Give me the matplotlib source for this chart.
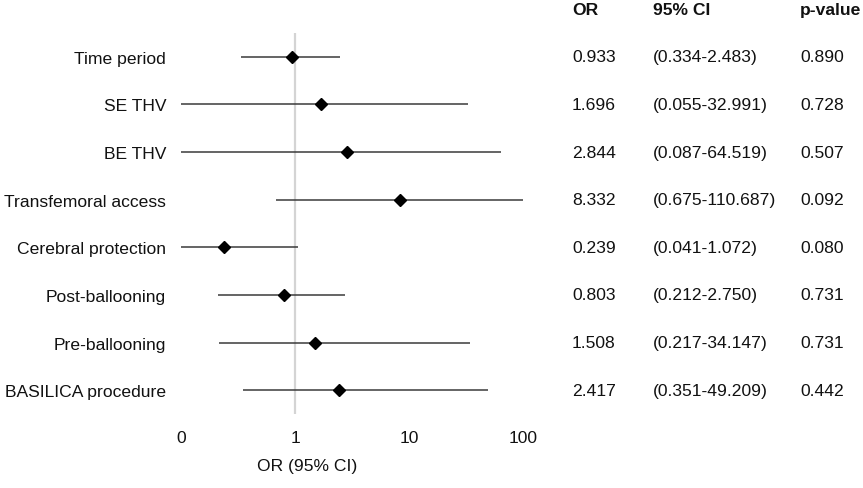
import matplotlib
matplotlib.use("Agg")
import matplotlib.pyplot as plt
import matplotlib.transforms as mtransforms

plt.rcParams['font.family'] = ['Liberation Sans', 'DejaVu Sans']

labels = ["Time period", "SE THV", "BE THV", "Transfemoral access",
          "Cerebral protection", "Post-ballooning", "Pre-ballooning",
          "BASILICA procedure"]
odds = [0.933, 1.696, 2.844, 8.332, 0.239, 0.803, 1.508, 2.417]
ci_low = [0.334, 0.055, 0.087, 0.675, 0.041, 0.212, 0.217, 0.351]
ci_high = [2.483, 32.991, 64.519, 110.687, 1.072, 2.750, 34.147, 49.209]
p_values = ["0.890", "0.728", "0.507", "0.092", "0.080", "0.731", "0.731", "0.442"]
x_ticks = [0.1, 1, 10, 100]
x_tick_labels = ["0", "1", "10", "100"]

FS = 12.6
TXT = '#111111'
W, H = 863, 489
fig = plt.figure(figsize=(W / 100, H / 100), dpi=100)
ax_left, ax_right = 181, 523
ax_top, ax_bottom = 34, 415
ax = fig.add_axes([ax_left / W, 1 - ax_bottom / H, (ax_right - ax_left) / W, (ax_bottom - ax_top) / H])

ax.set_xscale('log')
ax.set_xlim(0.1, 100)
ax.set_ylim(len(labels) - 0.5, -0.5)

ax.axvline(1, color='#d4d4d4', lw=1.6, zorder=1)
ys = list(range(len(labels)))
ax.hlines(ys, ci_low, ci_high, color='#3a3a3a', lw=1.1, zorder=2)
ax.plot(odds, ys, linestyle='none', marker='D', ms=6.5, color='black', zorder=3)

for s in ax.spines.values():
    s.set_visible(False)
ax.set_xticks(x_ticks)
ax.set_xticklabels(x_tick_labels)
ax.minorticks_off()
ax.set_yticks(ys)
ax.set_yticklabels(labels)
ax.tick_params(axis='both', length=0, labelsize=FS, colors=TXT)
ax.tick_params(axis='x', pad=11.5)
ax.tick_params(axis='y', pad=10.8)

fig.text(307 / W, 1 - 467 / H, "OR (95% CI)", ha='center', va='center', fontsize=FS, color=TXT)

trans = mtransforms.blended_transform_factory(fig.transFigure, ax.transData)
col_x = [572, 653, 800]
headers = ["OR", "95% CI", "p-value"]
for cx, h in zip(col_x, headers):
    ax.text(cx / W, -1.0, h, transform=trans, ha='left', va='center',
            fontsize=FS, fontweight='bold', color=TXT, clip_on=False)
for i in ys:
    ax.text(col_x[0] / W, i, f"{odds[i]:.3f}", transform=trans, ha='left', va='center',
            fontsize=FS, color=TXT, clip_on=False)
    ax.text(col_x[1] / W, i, f"({ci_low[i]:.3f}-{ci_high[i]:.3f})", transform=trans,
            ha='left', va='center', fontsize=FS, color=TXT, clip_on=False)
    ax.text(col_x[2] / W, i, p_values[i], transform=trans, ha='left', va='center',
            fontsize=FS, color=TXT, clip_on=False)

fig.savefig("out.png", dpi=100)
